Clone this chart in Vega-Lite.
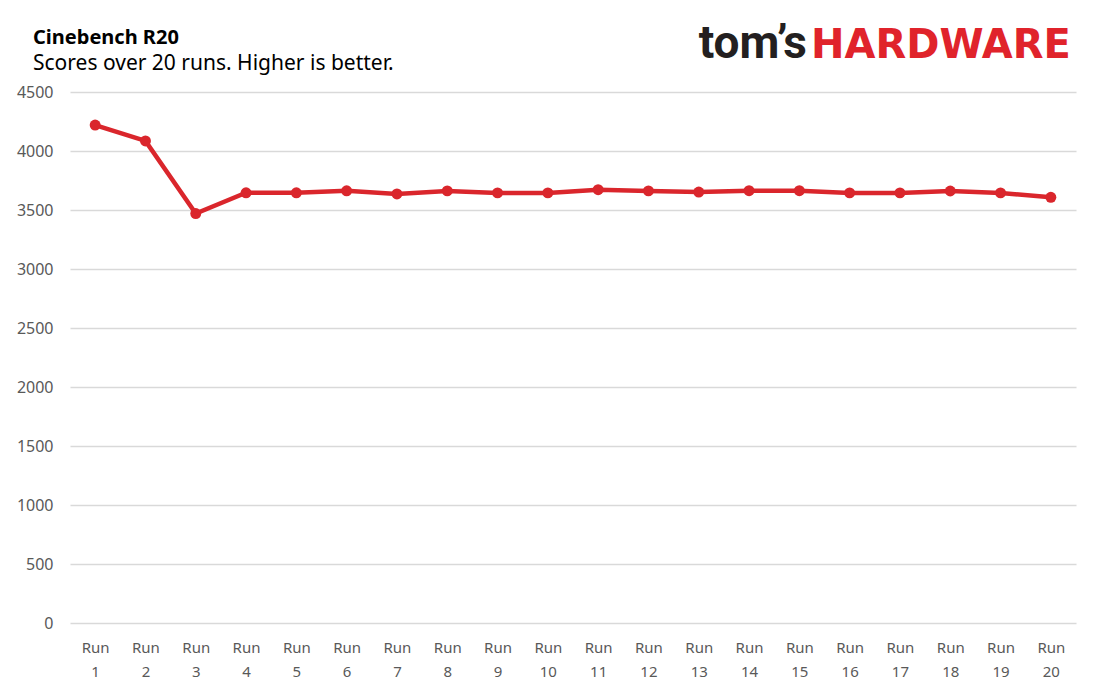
{
  "$schema": "https://vega.github.io/schema/vega-lite/v6.json",
  "width": 1006,
  "height": 531,
  "autosize": {"type": "none"},
  "padding": {"left": 70, "top": 92, "right": 24, "bottom": 73},
  "background": "white",
  "title": {
    "text": "Cinebench R20",
    "subtitle": "Scores over 20 runs. Higher is better.",
    "anchor": "start",
    "frame": "group",
    "dx": -37,
    "dy": 69,
    "offset": 16,
    "font": "Noto Sans",
    "fontSize": 20,
    "fontWeight": "bold",
    "color": "#000000",
    "subtitleFont": "Noto Sans",
    "subtitleFontSize": 21,
    "subtitleColor": "#000000",
    "subtitlePadding": 5
  },
  "data": {
    "values": [
      {"run": "Run 1", "score": 4220},
      {"run": "Run 2", "score": 4085},
      {"run": "Run 3", "score": 3470},
      {"run": "Run 4", "score": 3646},
      {"run": "Run 5", "score": 3646},
      {"run": "Run 6", "score": 3663},
      {"run": "Run 7", "score": 3636},
      {"run": "Run 8", "score": 3662},
      {"run": "Run 9", "score": 3645},
      {"run": "Run 10", "score": 3645},
      {"run": "Run 11", "score": 3672},
      {"run": "Run 12", "score": 3662},
      {"run": "Run 13", "score": 3652},
      {"run": "Run 14", "score": 3664},
      {"run": "Run 15", "score": 3664},
      {"run": "Run 16", "score": 3645},
      {"run": "Run 17", "score": 3645},
      {"run": "Run 18", "score": 3661},
      {"run": "Run 19", "score": 3645},
      {"run": "Run 20", "score": 3608}
    ]
  },
  "encoding": {
    "x": {
      "field": "run",
      "type": "ordinal",
      "sort": null,
      "scale": {"type": "point", "padding": 0.5},
      "axis": {
        "title": null,
        "labelAngle": 0,
        "labelExpr": "split(datum.label, ' ')",
        "labelFont": "Noto Sans",
        "labelFontSize": 15,
        "labelColor": "#595959",
        "labelLineHeight": 24,
        "labelPadding": 17,
        "ticks": false,
        "domain": false
      }
    },
    "y": {
      "field": "score",
      "type": "quantitative",
      "scale": {"domain": [0, 4500], "nice": false},
      "axis": {
        "title": null,
        "format": "d",
        "values": [0, 500, 1000, 1500, 2000, 2500, 3000, 3500, 4000, 4500],
        "labelFont": "Noto Sans",
        "labelFontSize": 16,
        "labelColor": "#595959",
        "labelPadding": 17,
        "ticks": false,
        "domain": false,
        "grid": true,
        "gridColor": "#d9d9d9",
        "gridWidth": 1.5
      }
    }
  },
  "layer": [
    {
      "mark": {"type": "line", "color": "#da262c", "strokeWidth": 4.5},
      "encoding": {}
    },
    {
      "mark": {"type": "point", "filled": true, "opacity": 1, "color": "#da262c", "size": 120}
    },
    {
      "data": {"values": [{"run": "Run 20", "score": 4500, "part": "tom’s"}]},
      "mark": {"type": "text", "align": "right", "baseline": "alphabetic", "dx": -244, "dy": -34, "font": "Roboto", "fontWeight": "bold", "fontSize": 46, "color": "#231f20"},
      "encoding": {"text": {"field": "part"}}
    },
    {
      "data": {"values": [{"run": "Run 20", "score": 4500, "part": "HARDWARE"}]},
      "mark": {"type": "text", "align": "right", "baseline": "alphabetic", "dx": 20, "dy": -34, "font": "DejaVu Sans", "fontWeight": "bold", "fontSize": 40, "color": "#e0232b"},
      "encoding": {"text": {"field": "part"}}
    }
  ],
  "config": {"view": {"stroke": null}}
}
